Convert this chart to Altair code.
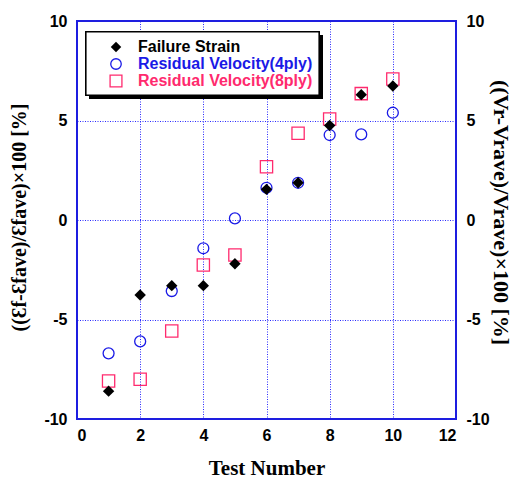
import altair as alt
import pandas as pd

test_no = [1, 2, 3, 4, 5, 6, 7, 8, 9, 10]
failure_strain = [-8.6, -3.77, -3.3, -3.3, -2.2, 1.54, 1.87, 4.75, 6.3, 6.73]
resid_4ply = [-6.7, -6.1, -3.57, -1.42, 0.08, 1.62, 1.87, 4.27, 4.3, 5.39]
resid_8ply = [-8.09, -8.0, -5.58, -2.26, -1.76, 2.68, 4.36, 5.08, 6.35, 7.09]

legend_labels = ["Failure Strain", "Residual Velocity(4ply)", "Residual Velocity(8ply)"]
legend_rows = [0, 1, 2]
legend_colors = ["#000000", "#1a1ae6", "#ff2a6e"]

df = pd.DataFrame({"x": test_no, "fs": failure_strain, "r4": resid_4ply, "r8": resid_8ply})

xs = alt.Scale(domain=[0, 12], nice=False)
ys = alt.Scale(domain=[-10, 10], nice=False)

grid_color = "#2a2aff"
x_grid_color = {"condition": {"test": "datum.value == 0 || datum.value == 12", "value": "transparent"},
                "value": grid_color}
y_grid_color = {"condition": {"test": "datum.value == -10 || datum.value == 10", "value": "transparent"},
                "value": grid_color}

x_axis = alt.Axis(values=[0, 2, 4, 6, 8, 10, 12], title="Test Number", grid=True,
                  gridColor=x_grid_color, gridDash=[1, 1.5], gridWidth=1,
                  ticks=False, domain=False, labelFont="Liberation Sans", labelFontWeight="bold",
                  labelFontSize=16, labelColor="black", labelPadding=8, labelExpr="'' + datum.value",
                  titleFont="Liberation Serif", titleFontWeight="bold", titleFontSize=21,
                  titleColor="black", titlePadding=14)
y_axis = alt.Axis(values=[-10, -5, 0, 5, 10], grid=True, gridColor=y_grid_color, gridDash=[1, 1.5],
                  gridWidth=1, ticks=False, domain=False,
                  labelFont="Liberation Sans", labelFontWeight="bold", labelFontSize=16,
                  labelColor="black", labelPadding=10, labelExpr="'' + datum.value",
                  title="((Ɛf-Ɛfave)/Ɛfave)×100 [%]", titleFont="Liberation Serif",
                  titleFontWeight="bold", titleFontSize=20, titleColor="black",
                  titleAngle=270, titleAlign="center", titleBaseline="middle",
                  titleX=-58, titleY=196)
y_axis_r = alt.Axis(values=[-10, -5, 0, 5, 10], orient="right", grid=False, ticks=False, domain=False,
                    labelFont="Liberation Sans", labelFontWeight="bold", labelFontSize=16,
                    labelColor="black", labelPadding=10, labelExpr="'' + datum.value",
                    title="((Vr-Vrave)/Vrave)×100 [%]", titleFont="Liberation Serif",
                    titleFontWeight="bold", titleFontSize=22, titleColor="black",
                    titleAngle=90, titleAlign="center", titleBaseline="middle",
                    titleX=44, titleY=191)

base = alt.Chart(df)
p_fs = base.mark_point(shape="diamond", filled=True, color="black", size=130, opacity=1).encode(
    x=alt.X("x:Q", scale=xs, axis=x_axis), y=alt.Y("fs:Q", scale=ys, axis=y_axis))
p_r4 = base.mark_point(shape="circle", filled=False, color=legend_colors[1], size=120,
                       strokeWidth=1.3, opacity=1).encode(
    x=alt.X("x:Q", scale=xs), y=alt.Y("r4:Q", scale=ys))
p_r8 = base.mark_point(shape="square", filled=False, color=legend_colors[2], size=150,
                       strokeWidth=1.3, opacity=1).encode(
    x=alt.X("x:Q", scale=xs), y=alt.Y("r8:Q", scale=ys))
data_layer = alt.layer(p_r8, p_r4, p_fs)

right_axis = base.mark_point(opacity=0).encode(
    x=alt.X("x:Q", scale=xs), y=alt.Y("fs:Q", scale=ys, axis=y_axis_r))

# plot frame
frame = alt.Chart(df).mark_rect(fill=None, stroke="#1f1fe0", strokeWidth=1.6).encode(
    x=alt.value(0), x2=alt.value(379), y=alt.value(0), y2=alt.value(398))

# legend box
shadow = alt.Chart(df).mark_rect(color="black").encode(
    x=alt.value(12), x2=alt.value(246), y=alt.value(14), y2=alt.value(78))
box = alt.Chart(df).mark_rect(fill="white", stroke="black", strokeWidth=1.2).encode(
    x=alt.value(9), x2=alt.value(242), y=alt.value(11), y2=alt.value(74))

leg_df = pd.DataFrame({"label": legend_labels, "row": legend_rows, "color": legend_colors})
ly = alt.Scale(domain=[0, 2], range=[26, 60], nice=False, zero=False)
leg_sym_shapes = ["diamond", "circle", "square"]
leg_layers = []
for i, lab in enumerate(legend_labels):
    d = leg_df[leg_df["label"] == lab]
    leg_layers.append(alt.Chart(d).mark_point(shape=leg_sym_shapes[i], filled=(i == 0),
                                               color=legend_colors[i], size=[110, 110, 140][i],
                                               strokeWidth=1.3, opacity=1).encode(
        x=alt.value(39), y=alt.Y("row:Q", scale=ly, axis=None)))
leg_text = alt.Chart(leg_df).mark_text(align="left", baseline="middle", font="Liberation Sans",
                                       fontWeight="bold", fontSize=16).encode(
    x=alt.value(61), y=alt.Y("row:Q", scale=ly, axis=None),
    text="label:N",
    color=alt.Color("label:N", scale=alt.Scale(domain=legend_labels, range=legend_colors), legend=None))
legend_layer = alt.layer(shadow, box, *leg_layers, leg_text)

chart = alt.layer(data_layer, right_axis, frame, legend_layer).resolve_scale(y="independent").properties(
    width=379, height=398,
    autosize=alt.AutoSizeParams(type="none"),
    padding={"left": 77, "top": 21, "right": 56, "bottom": 63},
).configure_view(stroke=None).configure(background="white")

chart.save("out.html", embed_options={"renderer": "svg", "actions": False})
